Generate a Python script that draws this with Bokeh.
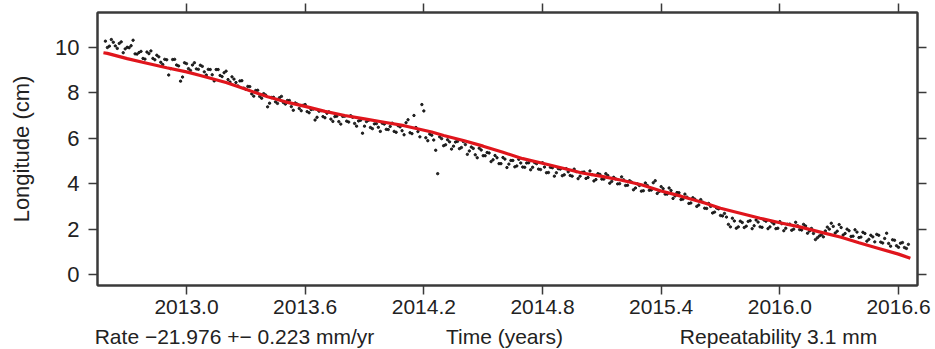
from bokeh.plotting import figure
from bokeh.layouts import column
from bokeh.models import Range1d, FixedTicker, LinearAxis, PrintfTickFormatter
from bokeh.core.properties import value
from bokeh.embed import file_html
from bokeh.resources import INLINE

# ---- data ----
x_ticks = [2013.0, 2013.6, 2014.2, 2014.8, 2015.4, 2016.0, 2016.6]
y_ticks = [0, 2, 4, 6, 8, 10]

# fitted model (red line): time (yr), longitude (cm)
fit_t = [2012.58, 2012.60, 2012.70, 2012.80, 2012.90, 2013.00, 2013.07, 2013.20, 2013.30,
         2013.41, 2013.50, 2013.60, 2013.70, 2013.80, 2013.90, 2014.00, 2014.10, 2014.24,
         2014.30, 2014.40, 2014.50, 2014.60, 2014.70, 2014.80, 2014.94, 2015.00, 2015.10,
         2015.20, 2015.30, 2015.40, 2015.50, 2015.62, 2015.70, 2015.80, 2015.90, 2016.00,
         2016.10, 2016.20, 2016.31, 2016.40, 2016.50, 2016.60, 2016.66]
fit_y = [9.76, 9.73, 9.50, 9.30, 9.10, 8.92, 8.76, 8.45, 8.15,
         7.82, 7.60, 7.40, 7.18, 7.00, 6.85, 6.70, 6.55, 6.27,
         6.12, 5.90, 5.65, 5.38, 5.10, 4.90, 4.60, 4.47, 4.32,
         4.15, 3.95, 3.68, 3.45, 3.15, 2.92, 2.70, 2.48, 2.28,
         2.10, 1.88, 1.64, 1.40, 1.15, 0.90, 0.72]

# observed positions (black dots), (time, longitude cm)
obs_2012 = [(2012.59, 10.27), (2012.61, 10.05), (2012.63, 10.22), (2012.65, 9.95), (2012.67, 10.24),
            (2012.69, 9.93), (2012.71, 9.98), (2012.73, 10.31), (2012.75, 9.70), (2012.77, 9.82),
            (2012.79, 9.48), (2012.81, 9.72), (2012.83, 9.51), (2012.85, 9.65), (2012.87, 9.34),
            (2012.89, 9.47), (2012.91, 8.78), (2012.93, 9.46), (2012.95, 9.22), (2012.97, 8.51),
            (2012.99, 9.32),
            (2012.60, 9.99), (2012.62, 10.34), (2012.64, 10.06), (2012.66, 10.17), (2012.68, 9.76),
            (2012.70, 10.00), (2012.72, 10.07), (2012.74, 9.71), (2012.76, 9.77), (2012.78, 9.51),
            (2012.80, 9.79), (2012.82, 9.84), (2012.84, 9.45), (2012.86, 9.58), (2012.88, 9.24),
            (2012.90, 9.45), (2012.92, 9.06), (2012.94, 9.47), (2012.96, 9.18), (2012.98, 8.69)]
obs_2013 = [(2013.01, 9.06), (2013.03, 9.22), (2013.05, 9.05), (2013.07, 9.21), (2013.09, 8.92),
            (2013.11, 9.03), (2013.13, 8.79), (2013.15, 9.02), (2013.17, 8.76), (2013.19, 8.88),
            (2013.21, 8.58), (2013.23, 8.70), (2013.25, 8.45), (2013.27, 8.52), (2013.29, 8.20),
            (2013.31, 8.28), (2013.33, 7.95), (2013.35, 8.10), (2013.37, 7.84), (2013.39, 7.96),
            (2013.41, 7.38), (2013.43, 7.79), (2013.45, 7.60), (2013.47, 7.78), (2013.49, 7.57),
            (2013.51, 7.66), (2013.53, 7.39), (2013.55, 7.55), (2013.57, 7.31), (2013.59, 7.45),
            (2013.61, 7.17), (2013.63, 7.26), (2013.65, 6.80), (2013.67, 7.19), (2013.69, 6.95),
            (2013.71, 7.10), (2013.73, 6.84), (2013.75, 6.95), (2013.77, 6.73), (2013.79, 6.96),
            (2013.81, 6.75), (2013.83, 6.99), (2013.85, 6.65), (2013.87, 6.76), (2013.89, 6.22),
            (2013.91, 6.73), (2013.93, 6.47), (2013.95, 6.63), (2013.97, 6.48), (2013.99, 6.66),
            (2013.00, 9.28), (2013.02, 8.98), (2013.04, 9.32), (2013.06, 9.03), (2013.08, 9.16),
            (2013.10, 8.78), (2013.12, 9.02), (2013.14, 8.52), (2013.16, 9.02), (2013.18, 8.71),
            (2013.20, 8.95), (2013.22, 8.47), (2013.24, 8.60), (2013.26, 8.30), (2013.28, 8.53),
            (2013.30, 8.15), (2013.32, 8.27), (2013.34, 7.85), (2013.36, 8.11), (2013.38, 7.76),
            (2013.40, 7.90), (2013.42, 7.54), (2013.44, 7.80), (2013.46, 7.53), (2013.48, 7.84),
            (2013.50, 7.50), (2013.52, 7.66), (2013.54, 7.23), (2013.56, 7.50), (2013.58, 7.21),
            (2013.60, 7.48), (2013.62, 7.12), (2013.64, 7.28), (2013.66, 6.92), (2013.68, 7.21),
            (2013.70, 6.90), (2013.72, 7.16), (2013.74, 6.74), (2013.76, 6.97), (2013.78, 6.62),
            (2013.80, 6.97), (2013.82, 6.71), (2013.84, 6.92), (2013.86, 6.53), (2013.88, 6.79),
            (2013.90, 6.53), (2013.92, 6.79), (2013.94, 6.42), (2013.96, 6.64), (2013.98, 6.30)]
obs_2014 = [(2014.01, 6.39), (2014.03, 6.52), (2014.05, 6.30), (2014.07, 6.55), (2014.09, 6.33),
            (2014.11, 6.68), (2014.13, 6.24), (2014.15, 7.00), (2014.17, 6.29), (2014.19, 7.48),
            (2014.21, 6.02), (2014.23, 6.18), (2014.25, 5.92), (2014.27, 4.44), (2014.29, 5.98),
            (2014.31, 5.71), (2014.33, 5.84), (2014.35, 5.65), (2014.37, 5.86), (2014.39, 5.59),
            (2014.41, 5.72), (2014.43, 5.44), (2014.45, 5.55), (2014.47, 5.14), (2014.49, 5.48),
            (2014.51, 5.23), (2014.53, 5.35), (2014.55, 5.05), (2014.57, 5.14), (2014.59, 4.88),
            (2014.61, 5.08), (2014.63, 4.86), (2014.65, 5.02), (2014.67, 4.78), (2014.69, 4.91),
            (2014.71, 4.72), (2014.73, 4.92), (2014.75, 4.72), (2014.77, 4.88), (2014.79, 4.62),
            (2014.81, 4.73), (2014.83, 4.49), (2014.85, 4.70), (2014.87, 4.48), (2014.89, 4.64),
            (2014.91, 4.39), (2014.93, 4.52), (2014.95, 4.33), (2014.97, 4.53), (2014.99, 4.33),
            (2014.00, 6.62), (2014.02, 6.38), (2014.04, 6.66), (2014.06, 6.26), (2014.08, 6.50),
            (2014.10, 6.15), (2014.12, 6.81), (2014.14, 6.20), (2014.16, 6.47), (2014.18, 6.06),
            (2014.20, 7.20), (2014.22, 5.89), (2014.24, 6.13), (2014.26, 5.47), (2014.28, 6.06),
            (2014.30, 5.67), (2014.32, 5.93), (2014.34, 5.52), (2014.36, 5.83), (2014.38, 5.54),
            (2014.40, 5.85), (2014.42, 5.29), (2014.44, 5.61), (2014.46, 5.27), (2014.48, 5.56),
            (2014.50, 5.23), (2014.52, 5.37), (2014.54, 4.97), (2014.56, 5.24), (2014.58, 4.88),
            (2014.60, 5.15), (2014.62, 4.71), (2014.64, 5.02), (2014.66, 4.74), (2014.68, 5.07),
            (2014.70, 4.73), (2014.72, 4.91), (2014.74, 4.61), (2014.76, 4.93), (2014.78, 4.64),
            (2014.80, 4.92), (2014.82, 4.48), (2014.84, 4.72), (2014.86, 4.33), (2014.88, 4.66),
            (2014.90, 4.35), (2014.92, 4.66), (2014.94, 4.36), (2014.96, 4.64), (2014.98, 4.22)]
obs_2015 = [(2015.01, 4.51), (2015.03, 4.27), (2015.05, 4.40), (2015.07, 4.18), (2015.09, 4.41),
            (2015.11, 4.20), (2015.13, 4.36), (2015.15, 4.10), (2015.17, 4.21), (2015.19, 4.00),
            (2015.21, 4.17), (2015.23, 3.93), (2015.25, 4.07), (2015.27, 3.81), (2015.29, 3.92),
            (2015.31, 3.69), (2015.33, 3.92), (2015.35, 3.72), (2015.37, 4.13), (2015.39, 3.66),
            (2015.41, 3.78), (2015.43, 3.54), (2015.45, 3.70), (2015.47, 3.46), (2015.49, 3.60),
            (2015.51, 3.32), (2015.53, 3.41), (2015.55, 3.15), (2015.57, 3.32), (2015.59, 3.06),
            (2015.61, 3.19), (2015.63, 2.91), (2015.65, 3.00), (2015.67, 2.75), (2015.69, 2.89),
            (2015.71, 2.58), (2015.73, 2.53), (2015.75, 2.10), (2015.77, 2.36), (2015.79, 2.10),
            (2015.81, 2.29), (2015.83, 2.13), (2015.85, 2.37), (2015.87, 2.15), (2015.89, 2.31),
            (2015.91, 2.08), (2015.93, 2.35), (2015.95, 2.10), (2015.97, 2.23), (2015.99, 2.04),
            (2015.00, 4.50), (2015.02, 4.23), (2015.04, 4.56), (2015.06, 4.12), (2015.08, 4.44),
            (2015.10, 4.20), (2015.12, 4.44), (2015.14, 4.02), (2015.16, 4.28), (2015.18, 3.99),
            (2015.20, 4.30), (2015.22, 3.92), (2015.24, 4.13), (2015.26, 3.73), (2015.28, 3.99),
            (2015.30, 3.67), (2015.32, 4.03), (2015.34, 3.71), (2015.36, 4.04), (2015.38, 3.57),
            (2015.40, 3.87), (2015.42, 3.54), (2015.44, 3.81), (2015.46, 3.35), (2015.48, 3.61),
            (2015.50, 3.30), (2015.52, 3.54), (2015.54, 3.13), (2015.56, 3.38), (2015.58, 3.00),
            (2015.60, 3.30), (2015.62, 2.92), (2015.64, 3.13), (2015.66, 2.71), (2015.68, 2.93),
            (2015.70, 2.60), (2015.72, 2.69), (2015.74, 2.21), (2015.76, 2.48), (2015.78, 2.04),
            (2015.80, 2.35), (2015.82, 2.07), (2015.84, 2.34), (2015.86, 2.02), (2015.88, 2.40),
            (2015.90, 2.10), (2015.92, 2.40), (2015.94, 2.02), (2015.96, 2.31), (2015.98, 2.02)]
obs_2016 = [(2016.01, 2.24), (2016.03, 2.04), (2016.05, 2.22), (2016.07, 2.00), (2016.09, 2.15),
            (2016.11, 1.96), (2016.13, 2.14), (2016.15, 1.92), (2016.17, 1.81), (2016.19, 1.62),
            (2016.21, 1.75), (2016.23, 1.92), (2016.25, 2.00), (2016.27, 2.12), (2016.29, 1.91),
            (2016.31, 2.07), (2016.33, 1.81), (2016.35, 1.93), (2016.37, 1.69), (2016.39, 1.87),
            (2016.41, 1.65), (2016.43, 1.81), (2016.45, 1.55), (2016.47, 1.66), (2016.49, 1.77),
            (2016.51, 1.43), (2016.53, 1.59), (2016.55, 1.37), (2016.57, 1.53), (2016.59, 1.27),
            (2016.61, 1.38), (2016.63, 1.19), (2016.65, 1.33),
            (2016.00, 2.33), (2016.02, 1.93), (2016.04, 2.21), (2016.06, 1.95), (2016.08, 2.30),
            (2016.10, 1.98), (2016.12, 2.21), (2016.14, 1.82), (2016.16, 2.03), (2016.18, 1.54),
            (2016.20, 1.70), (2016.22, 1.66), (2016.24, 2.09), (2016.26, 2.26), (2016.28, 1.83),
            (2016.30, 2.20), (2016.32, 1.74), (2016.34, 2.00), (2016.36, 1.68), (2016.38, 1.97),
            (2016.40, 1.63), (2016.42, 1.86), (2016.44, 1.47), (2016.46, 1.73), (2016.48, 1.44),
            (2016.50, 1.73), (2016.52, 1.39), (2016.54, 1.82), (2016.56, 1.25), (2016.58, 1.51),
            (2016.60, 1.20), (2016.62, 1.41), (2016.64, 1.15)]

rate_text = "Rate \u221221.976 +\u2212 0.223 mm/yr"
time_text = "Time (years)"
rep_text = "Repeatability 3.1 mm"
y_label = "Longitude (cm)"
footer_texts = [rate_text, time_text, rep_text]

# ---- figure ----
obs = obs_2012 + obs_2013 + obs_2014 + obs_2015 + obs_2016
obs_t = [o[0] for o in obs]
obs_y = [o[1] for o in obs]

FONT = "Liberation Sans"
FS = "21px"
FS_Y = "22px"
INK = "#222222"
FRAME = "#3a3a3a"

p = figure(width=935, height=323, output_backend="svg", toolbar_location=None,
           x_range=Range1d(2012.55, 2016.696), y_range=Range1d(-0.48, 11.53),
           min_border_left=97, min_border_right=18, min_border_top=12, min_border_bottom=38,
           background_fill_color="white", border_fill_color="white")
p.frame_align = False
p.grid.visible = False
p.outline_line_color = FRAME
p.outline_line_width = 2

p.scatter(obs_t, obs_y, size=2.4, color="#111111", alpha=0.9)
p.line(fit_t, fit_y, line_color="#e0151c", line_width=3.2)

def style(ax, ticks, labels=True, fs=FS):
    ax.ticker = FixedTicker(ticks=ticks)
    ax.minor_tick_line_color = None
    ax.major_tick_in = 0
    ax.major_tick_out = 9
    ax.major_tick_line_color = FRAME
    ax.major_tick_line_width = 1.5
    ax.axis_line_color = FRAME
    ax.axis_line_width = 2
    ax.major_label_text_font = FONT
    ax.major_label_text_color = INK
    ax.major_label_text_font_size = fs
    if not labels:
        ax.major_label_overrides = {t: "" for t in ticks}
        ax.major_label_standoff = 0

xb = p.xaxis[0]
style(xb, x_ticks)
xb.formatter = PrintfTickFormatter(format="%.1f")
xb.major_label_standoff = 5

yl = p.yaxis[0]
style(yl, y_ticks, fs=FS_Y)
yl.major_label_standoff = 9
yl.axis_label = y_label
yl.axis_label_text_font = FONT
yl.axis_label_text_font_size = FS_Y
yl.axis_label_text_font_style = "normal"
yl.axis_label_text_color = INK
yl.axis_label_standoff = 18

xt = LinearAxis()
style(xt, x_ticks, labels=False)
p.add_layout(xt, "above")
yr = LinearAxis()
style(yr, y_ticks, labels=False)
p.add_layout(yr, "right")

# footer strip with the three bottom captions (pixel coordinates of the strip)
f = figure(width=935, height=26, output_backend="svg", toolbar_location=None,
           x_range=Range1d(0, 935), y_range=Range1d(0, 26),
           x_axis_location=None, y_axis_location=None,
           min_border=0, min_border_left=0, min_border_right=0,
           min_border_top=0, min_border_bottom=0,
           background_fill_color="white", border_fill_color="white")
f.frame_align = False
f.outline_line_color = None
f.grid.visible = False
f.text(x=[234, 504, 778], y=[13, 13, 13], text=footer_texts,
       text_font=value(FONT), text_font_size=FS, text_color=INK,
       text_align="center", text_baseline="middle")

layout = column(p, f, spacing=0)
open("out.html", "w").write(file_html(layout, INLINE))
